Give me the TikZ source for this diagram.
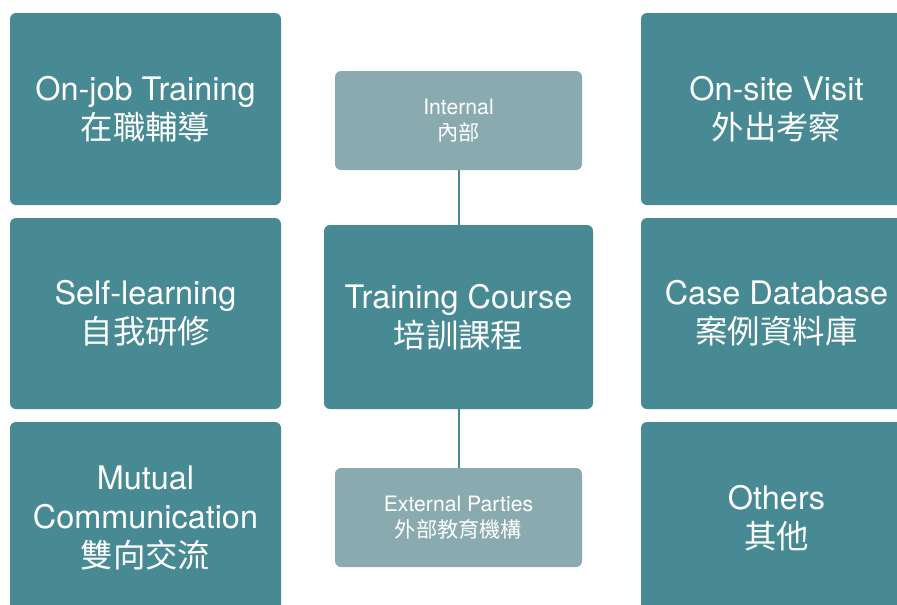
\documentclass[tikz,border=0pt]{standalone}
\usepackage{fontspec}
\setmainfont{TeX Gyre Heros}
\newfontfamily\cjk{Noto Sans CJK TC}
\definecolor{darkteal}{HTML}{478A93}
\definecolor{lightteal}{HTML}{89ABB0}
\tikzset{
  bigbox/.style={fill=darkteal, draw=none, rounded corners=4.5pt, text=white, align=center,
    font=\fontsize{24.3}{29}\selectfont, inner sep=0pt},
  smallbox/.style={fill=lightteal, draw=none, rounded corners=4.5pt, text=white, align=center,
    font=\fontsize{15.9}{19.5}\selectfont, inner sep=0pt},
  link/.style={draw=darkteal, line width=1.5pt}
}
\begin{document}
\begin{tikzpicture}[x=0.75pt, y=-0.75pt]
\useasboundingbox (0,0) rectangle (897,604);
\clip (0,0) rectangle (897,604);
% left column
\node[bigbox, minimum width=271*0.75pt, minimum height=192*0.75pt] (ojt) at (145.5,109) {On-job Training\\{\cjk 在職輔導}};
\node[bigbox, minimum width=271*0.75pt, minimum height=191*0.75pt] (self) at (145.5,313.5) {Self-learning\\{\cjk 自我研修}};
\node[bigbox, minimum width=271*0.75pt, minimum height=192*0.75pt] (mutual) at (145.5,518) {Mutual\\Communication\\{\cjk 雙向交流}};
% right column
\node[bigbox, minimum width=271*0.75pt, minimum height=192*0.75pt] (visit) at (776.5,109) {On-site Visit\\{\cjk 外出考察}};
\node[bigbox, minimum width=271*0.75pt, minimum height=191*0.75pt] (case) at (776.5,313.5) {Case Database\\{\cjk 案例資料庫}};
\node[bigbox, minimum width=271*0.75pt, minimum height=192*0.75pt] (others) at (776.5,518) {Others\\{\cjk 其他}};
% center
\node[smallbox, minimum width=247*0.75pt, minimum height=99*0.75pt] (internal) at (458.5,120.5) {Internal\\{\cjk 內部}};
\node[bigbox, minimum width=269*0.75pt, minimum height=184*0.75pt] (course) at (458.5,317) {Training Course\\{\cjk 培訓課程}};
\node[smallbox, minimum width=247*0.75pt, minimum height=99*0.75pt] (external) at (458.5,517.5) {External Parties\\{\cjk 外部教育機構}};
\draw[link] (internal.south) -- (course.north);
\draw[link] (course.south) -- (external.north);
\end{tikzpicture}
\end{document}
